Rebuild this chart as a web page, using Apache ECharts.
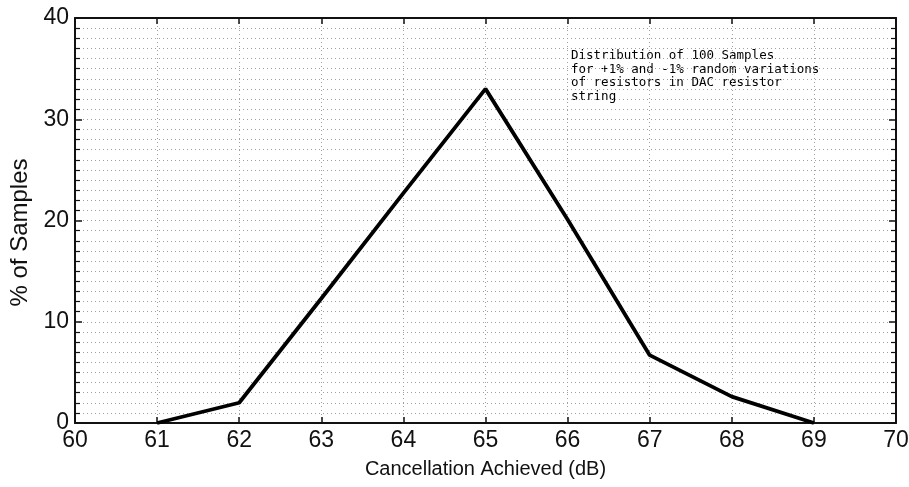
<!DOCTYPE html>
<html>
<head>
<meta charset="utf-8">
<script src="https://cdn.jsdelivr.net/npm/echarts@6/dist/echarts.min.js"></script>
<style>
html,body{margin:0;padding:0;background:#fff;}
#chart{width:909px;height:487px;}
</style>
</head>
<body>
<div id="chart"></div>
<script>
const cancellationDb = [61, 62, 63, 64, 65, 66, 67, 68, 69];
const pctSamples = [0, 2, 12.3, 22.7, 33, 20.1, 6.7, 2.6, 0];
const xTickLabels = ['60','61','62','63','64','65','66','67','68','69','70'];
const yTickLabels = ['0','10','20','30','40'];
const noteLines = [
  'Distribution of 100 Samples',
  'for +1% and -1% random variations',
  'of resistors in DAC resistor',
  'string'
];

const chart = echarts.init(document.getElementById('chart'));
const dotted = {show: true, lineStyle: {color: '#a0a0a0', type: [1, 3], width: 1}};
const axisFont = {fontFamily: 'Liberation Sans', fontSize: 23, color: '#111'};

chart.setOption({
  animation: false,
  backgroundColor: '#fff',
  grid: {left: 75, right: 13, top: 18, bottom: 64, containLabel: false, outerBoundsMode: 'none'},
  xAxis: [{
    type: 'value', min: 60, max: 70, interval: 1, position: 'bottom',
    name: 'Cancellation Achieved (dB)', nameLocation: 'middle', nameGap: 36,
    nameTextStyle: {fontFamily: 'Liberation Sans', fontSize: 20, color: '#111'},
    axisLine: {show: true, onZero: false, lineStyle: {color: '#111', width: 2}},
    axisTick: {show: true, inside: true, length: 6, lineStyle: {color: '#111', width: 1.5}},
    axisLabel: Object.assign({margin: 6, formatter: v => xTickLabels[Math.round(v - 60)]}, axisFont),
    splitLine: dotted
  }, {
    type: 'value', min: 60, max: 70, interval: 1, position: 'top',
    axisLine: {show: true, onZero: false, lineStyle: {color: '#111', width: 2}},
    axisTick: {show: true, inside: true, length: 6, lineStyle: {color: '#111', width: 1.5}},
    axisLabel: {show: false}, splitLine: {show: false}
  }],
  yAxis: [{
    type: 'value', min: 0, max: 40, interval: 10, position: 'left',
    name: '% of Samples', nameLocation: 'middle', nameGap: 42,
    nameTextStyle: {fontFamily: 'Liberation Sans', fontSize: 24, color: '#111', padding: [0, 24, 0, 0]},
    axisLine: {show: true, onZero: false, lineStyle: {color: '#111', width: 2}},
    axisTick: {show: true, inside: true, length: 7, lineStyle: {color: '#111', width: 1.5}},
    minorTick: {show: true, splitNumber: 10, length: 5, lineStyle: {color: '#111', width: 1.2}},
    axisLabel: Object.assign({margin: 6, formatter: v => yTickLabels[Math.round(v / 10)]}, axisFont),
    splitLine: dotted,
    minorSplitLine: dotted
  }, {
    type: 'value', min: 0, max: 40, interval: 10, position: 'right',
    axisLine: {show: true, onZero: false, lineStyle: {color: '#111', width: 2}},
    axisTick: {show: true, inside: true, length: 7, lineStyle: {color: '#111', width: 1.5}},
    minorTick: {show: true, splitNumber: 10, length: 5, lineStyle: {color: '#111', width: 1.2}},
    axisLabel: {show: false}, splitLine: {show: false}
  }],
  graphic: [{
    type: 'text', left: 571, top: 49,
    style: {
      text: noteLines.join('\n'),
      font: '12.5px "DejaVu Sans Mono"', lineHeight: 13.5,
      fill: '#000', backgroundColor: '#fff'
    }
  }],
  series: [{
    type: 'line', xAxisIndex: 0, yAxisIndex: 0,
    data: cancellationDb.map((x, i) => [x, pctSamples[i]]),
    showSymbol: false, symbol: 'none',
    lineStyle: {color: '#000', width: 3.8},
    z: 5
  }]
});
</script>
</body>
</html>
